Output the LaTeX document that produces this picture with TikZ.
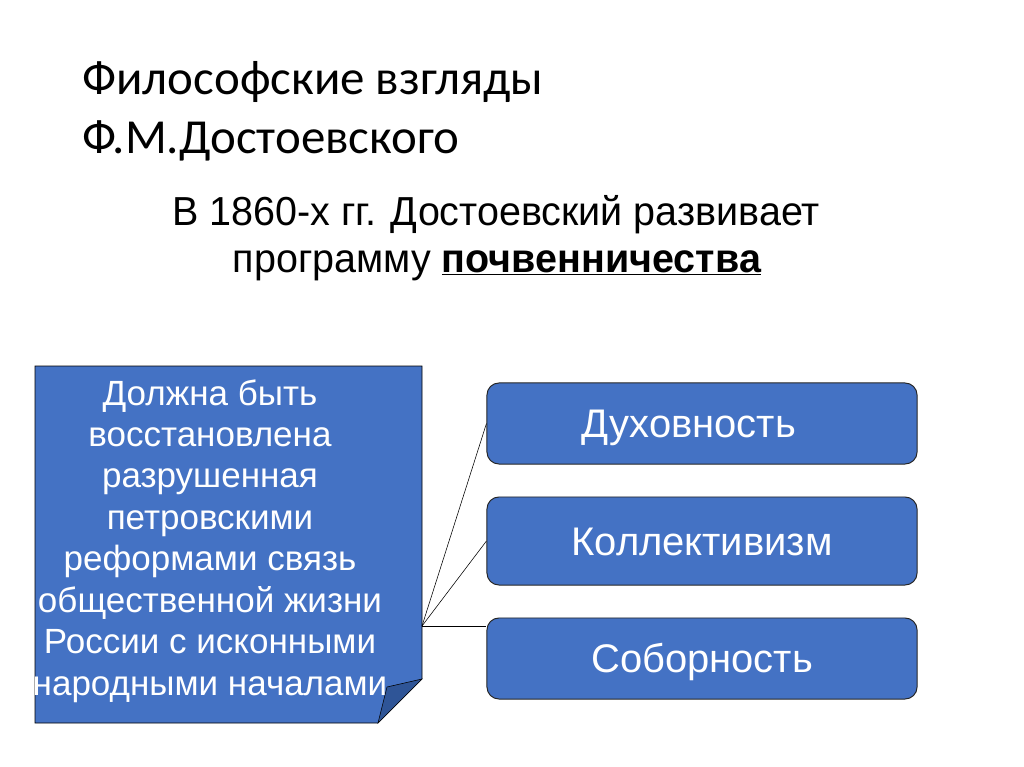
\documentclass[tikz,border=0pt]{standalone}
\usepackage{fontspec}
\setmainfont{Liberation Sans}
\newfontfamily\titlefont{Carlito}
\usetikzlibrary{positioning}
\definecolor{slideblue}{HTML}{4472C4}
\definecolor{foldblue}{HTML}{2F5597}
\newcommand{\narrowtext}[1]{\scalebox{0.975}[1]{#1}}
\tikzset{
  titletext/.style={anchor=base west, inner sep=0pt, font=\titlefont\fontsize{34.8}{40}\selectfont},
  leadtext/.style={anchor=base, inner sep=0pt, font=\fontsize{28.8}{34}\selectfont},
  pillar/.style={draw=black!85, line width=0.7pt, fill=slideblue, rounded corners=0.3cm, minimum width=10.75cm,
    text=white, text height=20.3pt, text depth=0pt, font=\fontsize{28.4}{33}\selectfont},
}

\begin{document}
\begin{tikzpicture}[x=0.025cm, y=-0.025cm]
      \useasboundingbox (0,0) rectangle (1024,767);
      \fill [white] (0,0) rectangle (1024,767);

      % heading
      \node [titletext] (head1) at (82,95) {Философские взгляды};
      \node [titletext] (head2) at (82,154) {Ф.М.Достоевского};
      \node [leadtext] (lead1) at (496,226) {\narrowtext{В 1860-х гг. Достоевский развивает}};
      \node [leadtext] (lead2) at (497,272) {\narrowtext{программу \underline{\textbf{почвенничества}}}};

      % note with folded corner
      \draw [black, fill=slideblue] (35,366) -- (422,366) -- (422,679) -- (378,723) -- (35,723) -- cycle;
      \draw [black, fill=foldblue] (378,723) -- (387,687) -- (422,679) -- cycle;
      \node [align=center, text=white, inner sep=0pt, font=\fontsize{24.9}{29.5}\selectfont] (note) at (210,541)
        {Должна быть\\восстановлена\\разрушенная\\петровскими\\реформами связь\\общественной жизни\\России с исконными\\народными началами};
      \coordinate (hub) at (422,626);

      % three principles
      \node [pillar, minimum height=2.025cm] (spirit) at (702,423.5) {\hspace*{-0.65cm}Духовность};
      \node [pillar, minimum height=2.2cm] (collect) at (702,541) {Коллективизм};
      \node [pillar, minimum height=2.025cm] (sobor) at (702,658.5) {Соборность};

      \draw [black] (hub) -- (spirit.west);
      \draw [black] (hub) -- (collect.west);
      \draw [black] (hub) -- (hub -| sobor.west);
\end{tikzpicture}
\end{document}
